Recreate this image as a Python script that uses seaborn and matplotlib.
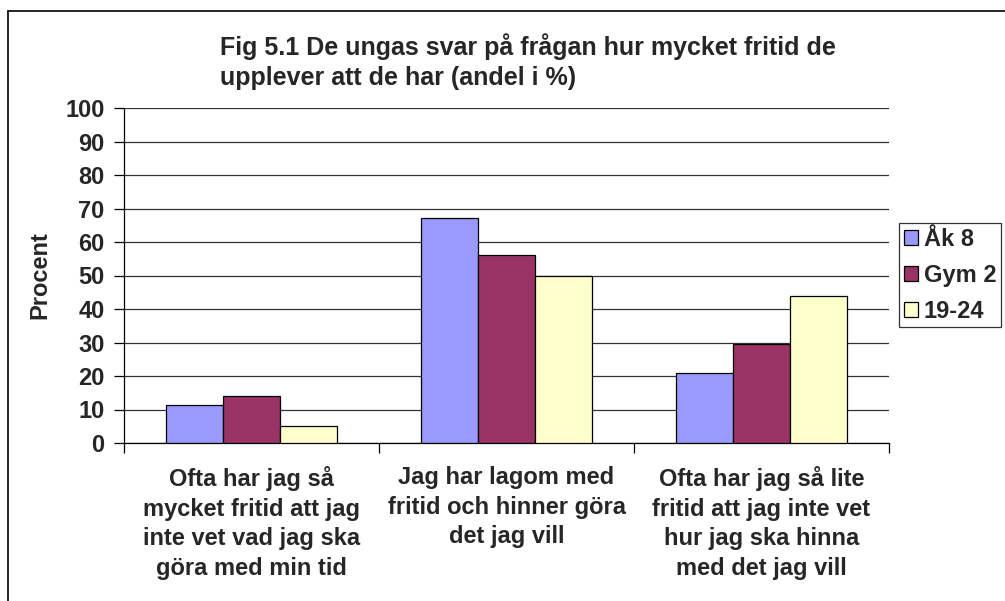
import matplotlib
matplotlib.use("Agg")
import matplotlib.pyplot as plt
import seaborn as sns
import pandas as pd
from matplotlib.patches import Patch
from matplotlib.lines import Line2D

categories = [
    "Ofta har jag så\nmycket fritid att jag\ninte vet vad jag ska\ngöra med min tid",
    "Jag har lagom med\nfritid och hinner göra\ndet jag vill",
    "Ofta har jag så lite\nfritid att jag inte vet\nhur jag ska hinna\nmed det jag vill",
]
series_names = ["Åk 8", "Gym 2", "19-24"]
ak8 = [11.2, 67.3, 20.9]
gym2 = [13.9, 56.2, 29.6]
y1924 = [5.2, 50.0, 44.0]
colors = ["#9999FF", "#993366", "#FFFFCC"]
yticks = list(range(0, 101, 10))

rows = []
for name, vals in zip(series_names, [ak8, gym2, y1924]):
    for c, v in zip(categories, vals):
        rows.append({"cat": c, "serie": name, "val": v})
df = pd.DataFrame(rows)

sns.set_theme(style="white")
plt.rcParams["font.family"] = ["Liberation Sans", "DejaVu Sans"]
plt.rcParams["font.weight"] = "bold"

FS = 17

fig = plt.figure(figsize=(10.05, 6.01), dpi=100)
ax = fig.add_axes([124 / 1005, 1 - 443 / 601, (889 - 124) / 1005, (443 - 108) / 601])

sns.barplot(data=df, x="cat", y="val", hue="serie", order=categories,
            hue_order=series_names, palette=colors, width=0.667, gap=0,
            edgecolor="black", linewidth=0.9, saturation=1, ax=ax, legend=False, zorder=3)

ax.set_ylim(0, 100)
ax.set_xlim(-0.5, 2.5)
ax.set_yticks(yticks)
ax.set_yticklabels([str(t) for t in yticks], fontsize=FS, fontweight="bold")
ax.yaxis.grid(True, color="#333333", linewidth=0.9)
ax.set_axisbelow(True)

ax.set_xticks([-0.5, 0.5, 1.5, 2.5])
ax.set_xticklabels([])
ax.set_xticks([0, 1, 2], minor=True)
ax.set_xticklabels(categories, minor=True, fontsize=FS, fontweight="bold", linespacing=1.37)
ax.tick_params(axis="x", which="minor", length=0, pad=16.5)
ax.tick_params(axis="x", which="major", length=7, width=0.9, color="black", direction="out", bottom=True)
ax.tick_params(axis="y", length=7, width=0.9, color="black", direction="out", left=True, pad=7)

for s in ["top", "right"]:
    ax.spines[s].set_visible(False)
for s in ["left", "bottom"]:
    ax.spines[s].set_color("black")
    ax.spines[s].set_linewidth(0.9)

ax.set_xlabel("")
ax.set_ylabel("Procent", fontsize=FS, fontweight="bold", labelpad=10)

fig.text(220 / 1005, 1 - 33 / 601,
         "Fig 5.1 De ungas svar på frågan hur mycket fritid de\nupplever att de har (andel i %)",
         ha="left", va="top", fontsize=18, fontweight="bold", linespacing=1.35)

handles = [Patch(facecolor=c, edgecolor="black", linewidth=0.9) for c in colors]
leg = fig.legend(handles, series_names, loc="upper left",
                 bbox_to_anchor=(899 / 1005, 1 - 223 / 601),
                 frameon=True, fancybox=False, edgecolor="black",
                 prop={"size": FS, "weight": "bold"},
                 handlelength=0.6, handleheight=0.6, handletextpad=0.25,
                 labelspacing=0.55, borderpad=0.2, borderaxespad=0)
leg.get_frame().set_linewidth(0.9)

# outer chart border (left and top only visible)
fig.add_artist(Line2D([8 / 1005, 8 / 1005], [0, 1 - 11 / 601], transform=fig.transFigure,
                      color="black", linewidth=1.2))
fig.add_artist(Line2D([8 / 1005, 1], [1 - 11 / 601, 1 - 11 / 601], transform=fig.transFigure,
                      color="black", linewidth=1.2))

fig.savefig("out.png", dpi=100)
